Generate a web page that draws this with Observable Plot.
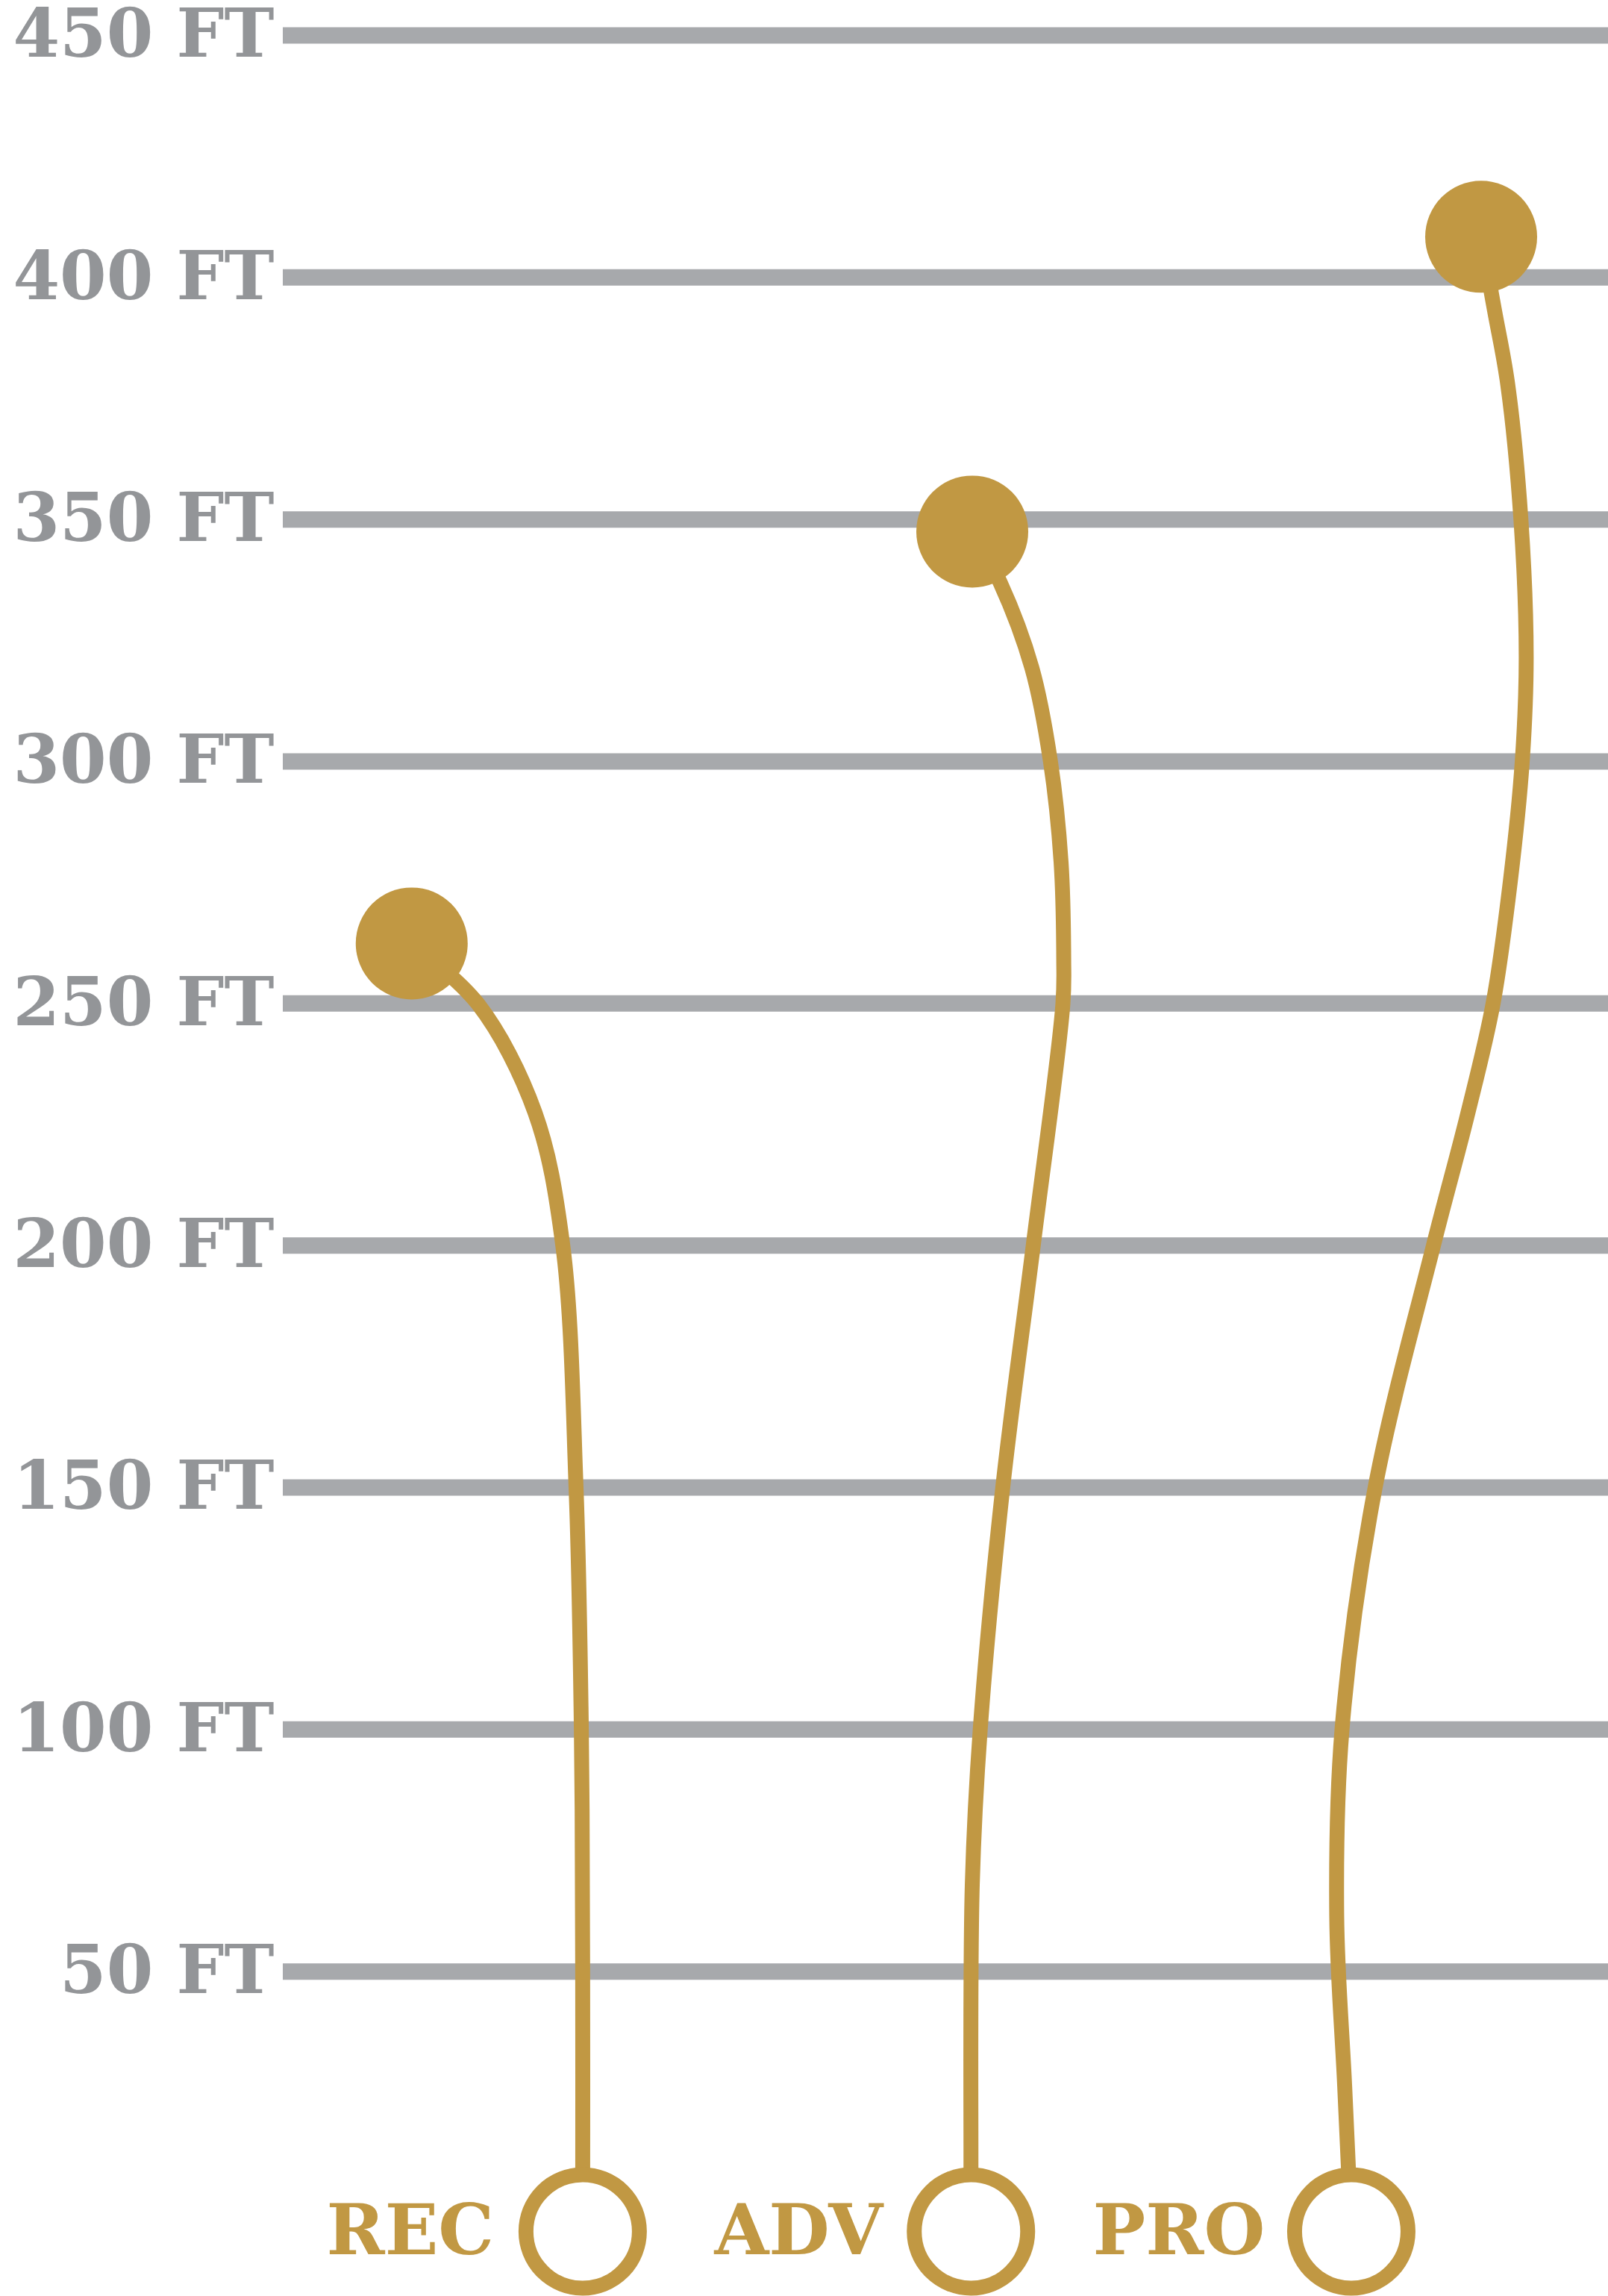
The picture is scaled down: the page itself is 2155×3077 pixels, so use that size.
<!DOCTYPE html>
<html>
<head>
<meta charset="utf-8">
<script src="https://cdn.jsdelivr.net/npm/d3@7"></script>
<script src="https://cdn.jsdelivr.net/npm/@observablehq/plot@0.6"></script>
<style>
  html, body { margin: 0; padding: 0; background: #ffffff; overflow: hidden; }
  #chart svg { display: block; }
</style>
</head>
<body>
<div id="chart"></div>
<script>
// ---- Data ----
const categories = ["REC", "ADV", "PRO"];
const ballHeights = [262.4, 347.5, 408.4];      // feet, top of each path
const ballPos = [9.7, 52.0, 90.4];              // horizontal position (0–100 across plot)
const basePos = [22.6, 51.9, 80.6];             // horizontal position of the bottom ring
const baseHeight = -3.7;                        // feet, bottom ring level

const tickValues = [50, 100, 150, 200, 250, 300, 350, 400, 450];
const tickLabels = ["50 FT", "100 FT", "150 FT", "200 FT", "250 FT", "300 FT", "350 FT", "400 FT", "450 FT"];

// path waypoints between ball and ring (position, feet)
const recPathPos = [14.7, 19.0, 21.1, 22.1, 22.5, 22.6];
const recPathFt  = [249.9, 227.5, 200, 150, 100, 50];

const advPathPos = [54.1, 56.5, 57.9, 58.7, 58.9, 58.84, 56.6, 54.3, 52.6, 52.0, 51.9];
const advPathFt  = [337, 319.3, 300, 279.2, 259.1, 250, 200, 150, 100, 68, 9];

const proPathPos = [91.4, 92.4, 93.4, 93.8, 93.5, 92.6, 91.3, 89.4, 86.8, 82.4, 79.9, 79.5, 80.1];
const proPathFt  = [393.3, 378, 350, 321.6, 300, 275.2, 250, 227.4, 200, 150, 100, 61.5, 26.4];

// ---- Build tables ----
const pathPos = [recPathPos, advPathPos, proPathPos];
const pathFt = [recPathFt, advPathFt, proPathFt];
const pathRows = [];
categories.forEach((c, i) => {
  pathRows.push({series: c, x: ballPos[i], y: ballHeights[i]});
  pathPos[i].forEach((p, j) => pathRows.push({series: c, x: p, y: pathFt[i][j]}));
  pathRows.push({series: c, x: basePos[i], y: baseHeight});
});
const balls = categories.map((c, i) => ({series: c, x: ballPos[i], y: ballHeights[i]}));
const bases = categories.map((c, i) => ({series: c, x: basePos[i], y: baseHeight}));
const labelOf = new Map(tickValues.map((v, i) => [v, tickLabels[i]]));

const GOLD = "#c19843";
const GRID = "#a7a9ac";
const LABEL = "#939598";
const FONT = "'DejaVu Serif', serif";

const chart = Plot.plot({
  width: 2155,
  height: 3077,
  marginLeft: 379,
  marginRight: 0,
  marginTop: 47,
  marginBottom: 111,
  style: {fontFamily: FONT, fontWeight: "bold", background: "#ffffff"},
  x: {domain: [0, 100], axis: null},
  y: {domain: [0, 450], axis: null},
  marks: [
    Plot.gridY(tickValues, {stroke: GRID, strokeOpacity: 1, strokeWidth: 22}),
    Plot.axisY(tickValues, {
      tickSize: 0, tickPadding: 12, label: null,
      tickFormat: d => labelOf.get(d),
      fontSize: 90, fill: LABEL, fontWeight: "bold", fontFamily: FONT
    }),
    Plot.line(pathRows, {x: "x", y: "y", z: "series", curve: "catmull-rom", stroke: GOLD, strokeWidth: 20}),
    Plot.dot(balls, {x: "x", y: "y", r: 75, fill: GOLD, stroke: "none"}),
    Plot.dot(bases, {x: "x", y: "y", r: 76, fill: "#ffffff", stroke: GOLD, strokeWidth: 20}),
    Plot.text(bases, {x: "x", y: "y", text: "series", dx: -231, textAnchor: "middle", fontSize: 94, fill: GOLD, fontWeight: "bold", fontFamily: FONT})
  ]
});
document.getElementById("chart").appendChild(chart);
</script>
</body>
</html>
